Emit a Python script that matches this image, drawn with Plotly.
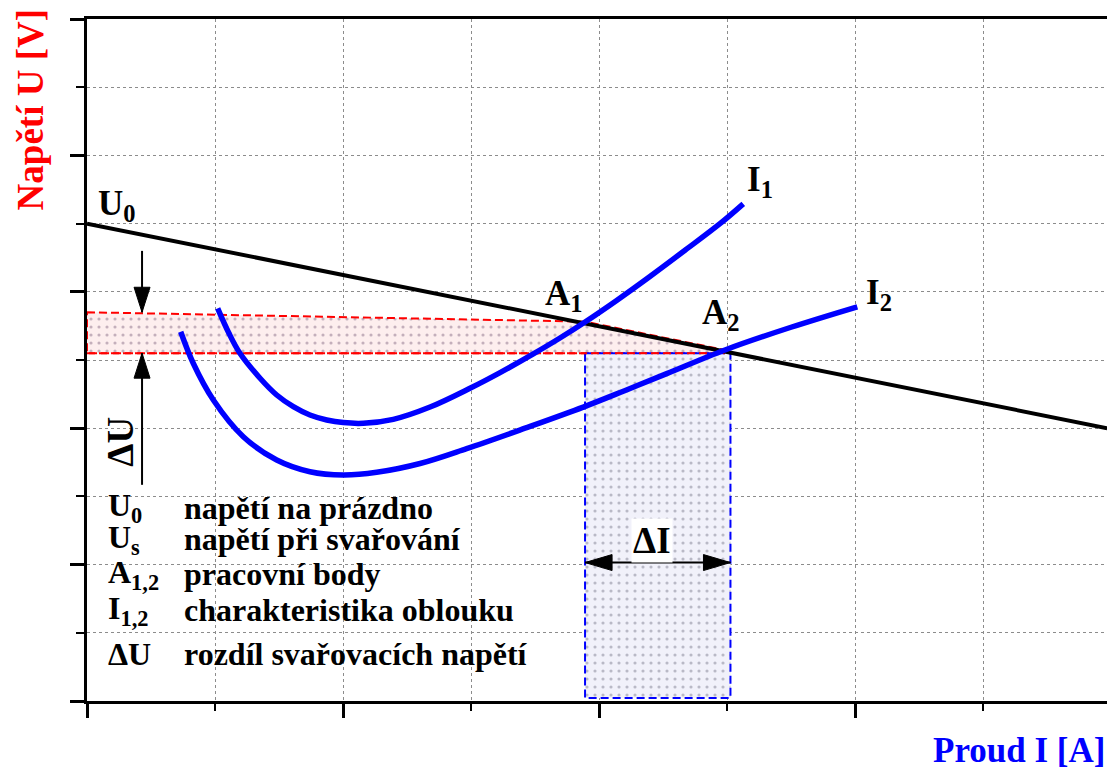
import plotly.graph_objects as go

# Source characteristic: open-circuit voltage U0 falling with current
source_i = [0.0, 7.97]
source_u = [7.0, 4.0]

# Arc characteristics I1 and I2
arc1_i = [1.021, 1.107, 1.195, 1.352, 1.482, 1.612, 1.742, 1.873, 2.002, 2.159,
          2.393, 2.680, 2.992, 3.227, 3.487, 3.695, 3.891, 4.138, 4.398, 4.672,
          4.945, 5.127]
arc1_u = [5.758, 5.40, 5.098, 4.732, 4.487, 4.316, 4.194, 4.121, 4.082, 4.072,
          4.130, 4.310, 4.585, 4.815, 5.090, 5.323, 5.558, 5.874, 6.225, 6.609,
          6.999, 7.290]
arc2_i = [0.732, 0.830, 0.987, 1.221, 1.482, 1.742, 2.002, 2.263, 2.602, 2.966,
          3.422, 3.877, 4.200, 4.529, 4.984, 5.500, 6.018]
arc2_u = [5.415, 4.952, 4.413, 3.875, 3.534, 3.362, 3.314, 3.353, 3.482, 3.700,
          4.000, 4.310, 4.550, 4.800, 5.147, 5.480, 5.780]

# Working points A1, A2 and the voltage / current bands
a1 = (3.891, 5.562)
a2 = (4.984, 5.147)
us_top = 5.70
us_bottom = 5.10
di_left = a1[0]
di_right = 5.027
di_floor = 0.045

# Dimension arrows
du_x = 0.43
du_top_start = 6.60
du_bottom_end = 3.17
di_y = 2.03

legend_symbols = ["U<sub>0</sub>", "U<sub>s</sub>", "A<sub>1,2</sub>", "I<sub>1,2</sub>", "ΔU"]
legend_texts = ["napětí na prázdno", "napětí při svařování", "pracovní body",
                "charakteristika oblouku", "rozdíl svařovacích napětí"]
legend_rows = [2.83, 2.37, 1.86, 1.33, 0.69]

SERIF = "Liberation Serif, Times New Roman, serif"

fig = go.Figure()

# Voltage band ΔU (red, dotted fill)
fig.add_trace(go.Scatter(
    x=[0, a1[0], a2[0], a2[0], 0, 0],
    y=[us_top, a1[1], a2[1], us_bottom, us_bottom, us_top],
    mode="lines", fill="toself",
    line=dict(color="#ff0000", width=2, dash="8px,4px"),
    fillcolor="#fdeeee",
    fillpattern=dict(shape=".", size=8, solidity=0.12,
                     fgcolor="rgba(110,80,110,0.8)", bgcolor="#fdeeee"),
    hoverinfo="skip", showlegend=False))

# Current band ΔI (blue, dotted fill)
fig.add_trace(go.Scatter(
    x=[di_left, di_right, di_right, di_left, di_left],
    y=[us_bottom, us_bottom, di_floor, di_floor, us_bottom],
    mode="lines", fill="toself",
    line=dict(color="#0000ff", width=2, dash="8px,4px"),
    fillcolor="#f1f1fa",
    fillpattern=dict(shape=".", size=8, solidity=0.12,
                     fgcolor="rgba(100,100,120,0.8)", bgcolor="#f1f1fa"),
    hoverinfo="skip", showlegend=False))

# Redraw the red lower edge over the blue band
fig.add_trace(go.Scatter(
    x=[0, a2[0]], y=[us_bottom, us_bottom], mode="lines",
    line=dict(color="#ff0000", width=2, dash="8px,4px"),
    hoverinfo="skip", showlegend=False))

# Source characteristic
fig.add_trace(go.Scatter(
    x=source_i, y=source_u, mode="lines",
    line=dict(color="black", width=4),
    hoverinfo="skip", showlegend=False))

# Arc characteristics
for xs, ys in ((arc1_i, arc1_u), (arc2_i, arc2_u)):
    fig.add_trace(go.Scatter(
        x=xs, y=ys, mode="lines",
        line=dict(color="#0000ff", width=5.5, shape="spline", smoothing=1.0),
        hoverinfo="skip", showlegend=False))

shapes = []
# ΔU arrows
shapes.append(dict(type="line", xref="x", yref="y", x0=du_x, x1=du_x,
                   y0=du_top_start, y1=us_top, line=dict(color="black", width=2)))
shapes.append(dict(type="line", xref="x", yref="y", x0=du_x, x1=du_x,
                   y0=us_bottom, y1=du_bottom_end, line=dict(color="black", width=2)))
# ΔI arrow
shapes.append(dict(type="line", xref="x", yref="y", x0=di_left, x1=di_right,
                   y0=di_y, y1=di_y, line=dict(color="black", width=2)))


def head(xa, ya, path):
    return dict(type="path", xref="x", yref="y", xsizemode="pixel", ysizemode="pixel",
                xanchor=xa, yanchor=ya, path=path, fillcolor="black",
                line=dict(color="black", width=1), layer="above")


shapes.append(head(du_x, us_top, "M 0,0 L -8,25 L 8,25 Z"))
shapes.append(head(du_x, us_bottom, "M 0,0 L -8,-25 L 8,-25 Z"))
shapes.append(head(di_left, di_y, "M 0,0 L 27,8 L 27,-8 Z"))
shapes.append(head(di_right, di_y, "M 0,0 L -27,8 L -27,-8 Z"))

annotations = []


def label(text, x, y, size=34, xanchor="left", **kw):
    annotations.append(dict(text=text, x=x, y=y, xref="x", yref="y", showarrow=False,
                            xanchor=xanchor, yanchor="middle",
                            font=dict(family=SERIF, size=size, color="black", weight="bold"),
                            **kw))


label("U<sub>0</sub>", 0.070, 7.27, size=35)
label("U<sub>s</sub>", -0.40, 5.38, size=35)
label("A<sub>1</sub>", 3.56, 5.95, size=35)
label("A<sub>2</sub>", 4.79, 5.66, size=35)
label("I<sub>1</sub>", 5.14, 7.62, size=35)
label("I<sub>2</sub>", 6.07, 5.96, size=35)
label("ΔI", 4.411, 2.36, size=37, xanchor="center", bgcolor="white")
label("ΔU", 0.265, 3.80, size=37, xanchor="center", textangle=-90)

for sym, txt, yy in zip(legend_symbols, legend_texts, legend_rows):
    label(sym, 0.150, yy, size=32)
    label(txt, 0.745, yy, size=32)

# Axis titles
annotations.append(dict(text="Napětí U [V]", xref="paper", yref="paper",
                        x=-57 / 1020, y=0.866, showarrow=False, textangle=-90,
                        xanchor="center", yanchor="middle",
                        font=dict(family=SERIF, size=37, color="#ff0000", weight="bold")))
annotations.append(dict(text="Proud I [A]", xref="paper", yref="paper",
                        x=1.0, y=-0.0733, showarrow=False,
                        xanchor="right", yanchor="middle",
                        font=dict(family=SERIF, size=35, color="#0000ff", weight="bold")))

grid = dict(showgrid=True, gridcolor="#8c8c8c", gridwidth=1, griddash="dot")

fig.update_layout(
    width=1107, height=769, autosize=False,
    margin=dict(l=87, r=0, t=19, b=68, pad=0),
    paper_bgcolor="white", plot_bgcolor="white",
    shapes=shapes, annotations=annotations,
    xaxis=dict(range=[0, 1020 / 128], tickmode="linear", tick0=0, dtick=2,
               ticks="outside", ticklen=14, tickwidth=3, tickcolor="black",
               showticklabels=False, zeroline=False,
               showline=True, linewidth=3, linecolor="black", mirror=True,
               minor=dict(tick0=0, dtick=1, ticks="outside", ticklen=7, tickwidth=2,
                          tickcolor="black", **grid),
               **grid),
    yaxis=dict(range=[0, 10], tickmode="linear", tick0=0, dtick=2,
               ticks="outside", ticklen=14, tickwidth=3, tickcolor="black",
               showticklabels=False, zeroline=False,
               showline=True, linewidth=3, linecolor="black",
               minor=dict(tick0=0, dtick=1, ticks="outside", ticklen=8, tickwidth=2,
                          tickcolor="black", **grid),
               **grid),
)

fig.write_html("out.html")
